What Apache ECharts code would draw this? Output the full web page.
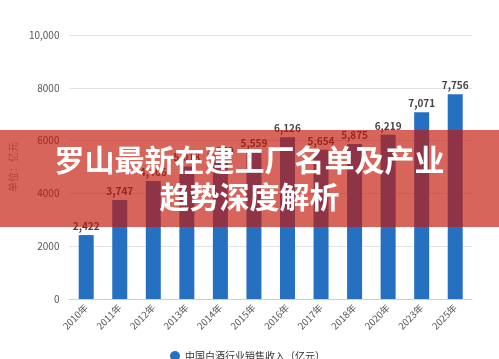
<!DOCTYPE html>
<html><head><meta charset="utf-8">
<script src="https://cdn.jsdelivr.net/npm/echarts@6/dist/echarts.min.js"></script>
<style>html,body{margin:0;padding:0;background:#fff}#c{width:499px;height:359px}</style>
</head><body><div id="c"></div>
<script>
const categories = ['2010年','2011年','2012年','2013年','2014年','2015年','2016年','2017年','2018年','2020年','2023年','2025年'];
const salesRevenue = [2422, 3747, 4466, 5018, 5259, 5559, 6126, 5654, 5875, 6219, 7071, 7756];
const seriesName = '中国白酒行业销售收入（亿元）';
const yAxisName = '单位：亿元';
const titleLines = ['罗山最新在建工厂名单及产业', '趋势深度解析'];

const chart = echarts.init(document.getElementById('c'), null, {renderer:'canvas'});
const font = '"Noto Sans CJK SC", "Noto Sans", sans-serif';
chart.setOption({
  animation: false,
  textStyle: {fontFamily: font},
  grid: {left: 69, right: 27, top: 35, bottom: 60},
  legend: {
    data: [seriesName], left: 165, top: 346, icon: 'circle', itemWidth: 10, itemHeight: 10, itemGap: 6,
    textStyle: {fontSize: 10, color: '#333', fontFamily: font}
  },
  xAxis: {
    type: 'category', data: categories,
    axisLine: {lineStyle: {color: '#cfcfcf'}},
    axisTick: {alignWithLabel: true, length: 4, lineStyle: {color: '#cfcfcf'}},
    axisLabel: {rotate: 45, fontSize: 9.5, color: '#555', margin: 7, interval: 0}
  },
  yAxis: {
    type: 'value', min: 0, max: 10000, interval: 2000,
    name: yAxisName, nameLocation: 'middle', nameGap: 45, nameRotate: 90,
    nameTextStyle: {fontSize: 10, color: '#999'},
    axisLine: {show: false}, axisTick: {show: false},
    splitLine: {lineStyle: {color: '#e3e3e3'}},
    axisLabel: {fontSize: 10, color: '#555', margin: 10,
      formatter: v => v >= 10000 ? v.toLocaleString('en-US') : String(v)}
  },
  series: [{
    name: seriesName, type: 'bar', data: salesRevenue, barWidth: 15,
    itemStyle: {color: '#2670c2'},
    label: {show: true, position: 'top', distance: 4, fontSize: 10, fontWeight: 'bold', color: '#444',
      formatter: p => p.value.toLocaleString('en-US')}
  }],
  graphic: [
    {type: 'rect', left: 0, top: 130, z: 100, shape: {width: 499, height: 97},
      style: {fill: 'rgba(196,22,6,0.66)'}},
    {type: 'text', left: 'center', top: 145, z: 101,
      style: {text: titleLines[0], fill: '#fff', font: 'bold 30px ' + font,
        shadowColor: 'rgba(0,0,0,0.25)', shadowBlur: 2}},
    {type: 'text', left: 'center', top: 182, z: 101,
      style: {text: titleLines[1], fill: '#fff', font: 'bold 30px ' + font,
        shadowColor: 'rgba(0,0,0,0.25)', shadowBlur: 2}}
  ]
});
</script></body></html>
